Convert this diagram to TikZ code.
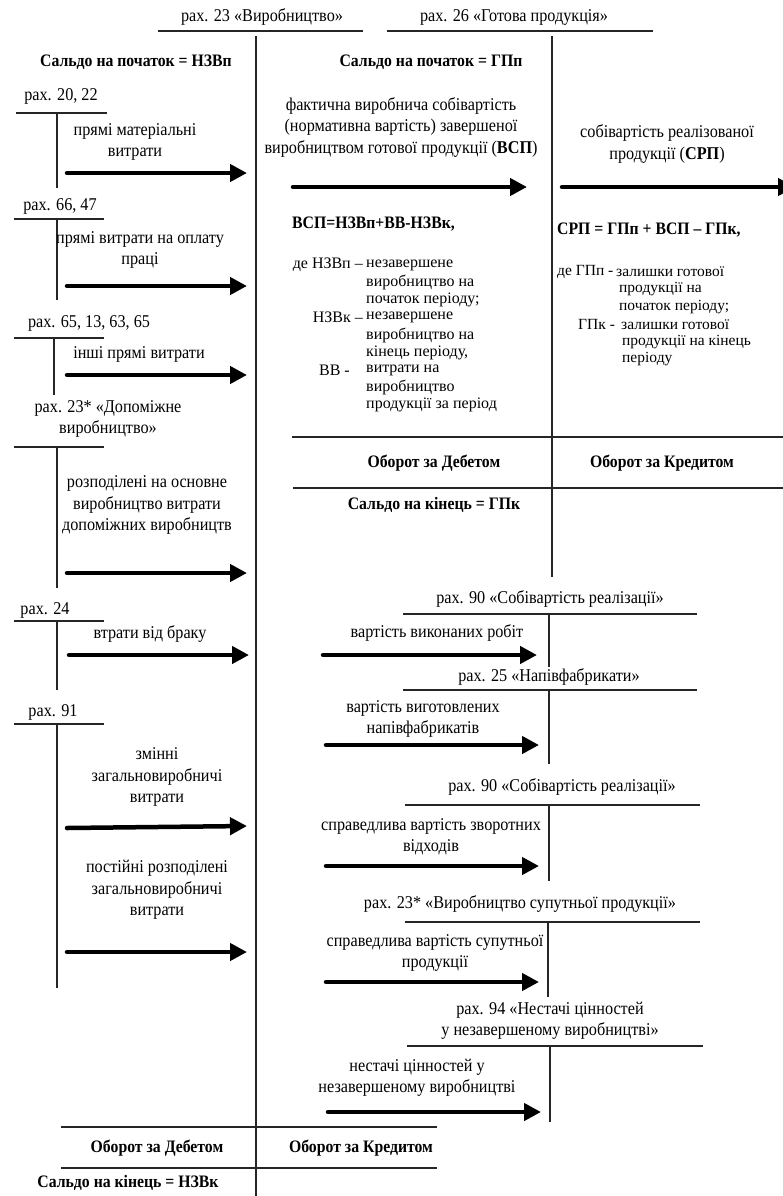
\documentclass[tikz,border=0pt]{standalone}
\usepackage{fontspec}
\setmainfont{Liberation Serif}[FakeStretch=0.9]
\newfontfamily\deffont{Liberation Serif}
\usetikzlibrary{arrows.meta}
\begin{document}
\begin{tikzpicture}[x=1bp,y=-1bp,
  txt/.style={font=\fontsize{18bp}{21.5bp}\selectfont, align=center, inner sep=0pt},
  hdr/.style={font=\fontsize{17.5bp}{20bp}\selectfont\bfseries, inner sep=0pt},
  dfn/.style={font=\deffont\fontsize{16bp}{17.5bp}\selectfont, inner sep=0pt, anchor=west},
  dlab/.style={font=\deffont\fontsize{16bp}{17.5bp}\selectfont, inner sep=0pt, anchor=east},
  dfr/.style={font=\deffont\fontsize{15.5bp}{17.5bp}\selectfont, inner sep=0pt, anchor=west},
  rule/.style={line width=1.1bp, draw=black!85},
  flow/.style={line width=4.5bp, line cap=round, -{Triangle[length=17bp,width=17bp]}},
]
\useasboundingbox (0,0) rectangle (783,1196);
\clip (0,0) rectangle (783,1196);

% ---------- account 23 "Production" ----------
\node[txt] (h23) at (262,17) {рах. 23 «Виробництво»};
\draw[rule] (158,31) -- (363,31);
\draw[rule] (256,36) -- (256,1196);
\node[hdr] (open23) at (136,62) {Сальдо на початок = НЗВп};

% ---------- account 26 "Finished goods" ----------
\node[txt] (h26) at (514,17) {рах. 26 «Готова продукція»};
\draw[rule] (387,31) -- (653,31);
\draw[rule] (552,36) -- (552,577);
\node[hdr] (open26) at (431,62) {Сальдо на початок = ГПп};

% ---------- debit sources of account 23 ----------
\node[txt] (k2022) at (61,96) {рах. 20, 22};
\draw[rule] (16,113) -- (107,113);
\draw[rule] (57,113) -- (57,188);
\node[txt] (e1) at (135,142) {прямі матеріальні\\витрати};
\coordinate (f1a) at (67,173); \coordinate (f1b) at (247,173);
\draw[flow] (f1a) -- (f1b);

\node[txt] (k6647) at (60,206) {рах. 66, 47};
\draw[rule] (14,219) -- (104,219);
\draw[rule] (57,219) -- (57,300);
\node[txt] (e2) at (140,250) {прямі витрати на оплату\\праці};
\coordinate (f2a) at (67,286); \coordinate (f2b) at (247,286);
\draw[flow] (f2a) -- (f2b);

\node[txt] (k65) at (89,323) {рах. 65, 13, 63, 65};
\draw[rule] (14,338) -- (104,338);
\draw[rule] (54,338) -- (54,395);
\node[txt] (e3) at (139,354) {інші прямі витрати};
\coordinate (f3a) at (67,375); \coordinate (f3b) at (247,375);
\draw[flow] (f3a) -- (f3b);

\node[txt] (k23s) at (108,419) {рах. 23* «Допоміжне\\виробництво»};
\draw[rule] (14,447) -- (104,447);
\draw[rule] (57,447) -- (57,588);
\node[txt] (e4) at (147,505) {розподілені на основне\\виробництво витрати\\допоміжних виробництв};
\coordinate (f4a) at (67,573); \coordinate (f4b) at (247,573);
\draw[flow] (f4a) -- (f4b);

\node[txt] (k24) at (45,610) {рах. 24};
\draw[rule] (14,621) -- (104,621);
\draw[rule] (57,621) -- (57,690);
\node[txt] (e5) at (150,634) {втрати від браку};
\coordinate (f5a) at (69,655); \coordinate (f5b) at (249,655);
\draw[flow] (f5a) -- (f5b);

\node[txt] (k91) at (53,712) {рах. 91};
\draw[rule] (14,724) -- (104,724);
\draw[rule] (57,724) -- (57,988);
\node[txt] (e6) at (157,777) {змінні\\загальновиробничі\\витрати};
\coordinate (f6a) at (67,828); \coordinate (f6b) at (247,826);
\draw[flow] (f6a) -- (f6b);
\node[txt] (e7) at (157,890) {постійні розподілені\\загальновиробничі\\витрати};
\coordinate (f7a) at (67,952); \coordinate (f7b) at (247,952);
\draw[flow] (f7a) -- (f7b);

% ---------- turnover and closing balance of account 23 ----------
\draw[rule] (61,1127) -- (437,1127);
\draw[rule] (61,1168) -- (437,1168);
\node[hdr] (deb23) at (157,1148) {Оборот за Дебетом};
\node[hdr] (cr23) at (361,1148) {Оборот за Кредитом};
\node[hdr] (close23) at (128,1183) {Сальдо на кінець = НЗВк};

% ---------- transfer to finished goods and cost of sales ----------
\node[txt] (vsp) at (401,127) {фактична виробнича собівартість\\(нормативна вартість) завершеної\\виробництвом готової продукції (\textbf{ВСП})};
\coordinate (f8a) at (293,187); \coordinate (f8b) at (527,187);
\draw[flow] (f8a) -- (f8b);
\node[txt] (srp) at (667,144) {собівартість реалізованої\\продукції (\textbf{СРП})};
\coordinate (f9a) at (562,187); \coordinate (f9b) at (795,187);
\draw[flow] (f9a) -- (f9b);

% ---------- formulas ----------
\node[hdr, anchor=west] (fvsp) at (292,224) {ВСП=НЗВп+ВВ-НЗВк,};
\node[dlab] (l1) at (363,265) {де НЗВп –};
\node[dfn] (d1) at (366,265) {незавершене};
\node[dfn] (d2) at (366,282.5) {виробництво на};
\node[dfn] (d3) at (366,300) {початок періоду;};
\node[dlab] (l2) at (363,317.5) {НЗВк –};
\node[dfn] (d4) at (366,317.5) {незавершене};
\node[dfn] (d5) at (366,335) {виробництво на};
\node[dfn] (d6) at (366,352.5) {кінець періоду,};
\node[dlab] (l3) at (350,370) {ВВ -};
\node[dfn] (d7) at (366,370) {витрати на};
\node[dfn] (d8) at (366,387.5) {виробництво};
\node[dfn] (d9) at (366,405) {продукції за період};

\node[hdr, anchor=west] (fsrp) at (557,230) {СРП = ГПп + ВСП – ГПк,};
\node[dfr] (g1) at (557,272) {де ГПп -};
\node[dfr] (g2) at (616,272) {залишки готової};
\node[dfr] (g3) at (619,289.5) {продукції на};
\node[dfr] (g4) at (619,307) {початок періоду;};
\node[dfr] (g5) at (578,324.5) {ГПк -};
\node[dfr] (g6) at (621,324.5) {залишки готової};
\node[dfr] (g7) at (622,342) {продукції на кінець};
\node[dfr] (g8) at (622,359.5) {періоду};

% ---------- turnover and closing balance of account 26 ----------
\draw[rule] (292,437) -- (783,437);
\draw[rule] (293,488) -- (783,488);
\node[hdr] (deb26) at (434,463) {Оборот за Дебетом};
\node[hdr] (cr26) at (662,463) {Оборот за Кредитом};
\node[hdr] (close26) at (434,505) {Сальдо на кінець = ГПк};

% ---------- credit destinations of account 23 ----------
\node[txt] (k90a) at (550,599) {рах. 90 «Собівартість реалізації»};
\draw[rule] (403,614) -- (697,614);
\draw[rule] (549,614) -- (549,667);
\node[txt] (e8) at (437,633) {вартість виконаних робіт};
\coordinate (g1a) at (323,655); \coordinate (g1b) at (537,655);
\draw[flow] (g1a) -- (g1b);

\node[txt] (k25) at (549,677) {рах. 25 «Напівфабрикати»};
\draw[rule] (403,690) -- (697,690);
\draw[rule] (549,690) -- (549,764);
\node[txt] (e9) at (423,719) {вартість виготовлених\\напівфабрикатів};
\coordinate (g2a) at (326,745); \coordinate (g2b) at (539,745);
\draw[flow] (g2a) -- (g2b);

\node[txt] (k90b) at (562,787) {рах. 90 «Собівартість реалізації»};
\draw[rule] (405,805) -- (700,805);
\draw[rule] (549,805) -- (549,881);
\node[txt] (e10) at (431,837) {справедлива вартість зворотних\\відходів};
\coordinate (g3a) at (326,866); \coordinate (g3b) at (539,866);
\draw[flow] (g3a) -- (g3b);

\node[txt] (k23p) at (520,904) {рах. 23* «Виробництво супутньої продукції»};
\draw[rule] (405,922) -- (700,922);
\draw[rule] (548,922) -- (548,997);
\node[txt] (e11) at (435,953) {справедлива вартість супутньої\\продукції};
\coordinate (g4a) at (326,982); \coordinate (g4b) at (539,982);
\draw[flow] (g4a) -- (g4b);

\node[txt] (k94) at (550,1021) {рах. 94 «Нестачі цінностей\\у незавершеному виробництві»};
\draw[rule] (407,1046) -- (703,1046);
\draw[rule] (550,1046) -- (550,1122);
\node[txt] (e12) at (417,1078) {нестачі цінностей у\\незавершеному виробництві};
\coordinate (g5a) at (328,1112); \coordinate (g5b) at (541,1112);
\draw[flow] (g5a) -- (g5b);
\end{tikzpicture}
\end{document}
